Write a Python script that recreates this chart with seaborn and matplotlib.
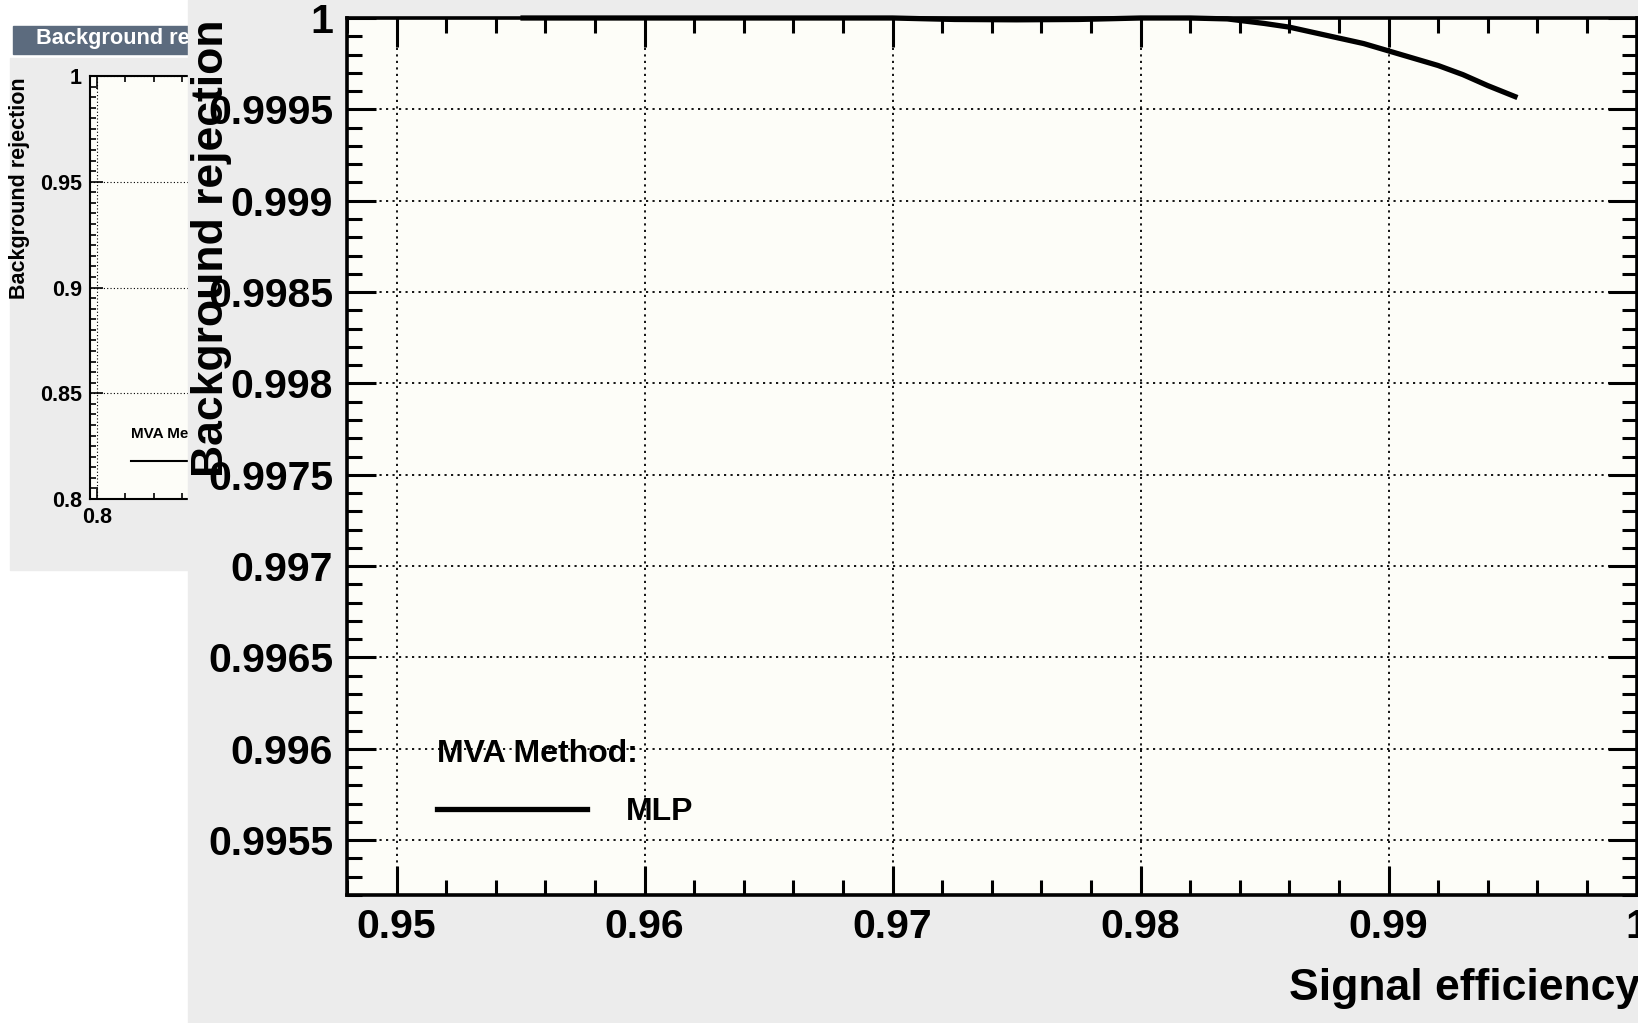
import seaborn as sns
import pandas as pd
import matplotlib.pyplot as plt
from matplotlib.patches import Rectangle
from matplotlib.ticker import MultipleLocator, FuncFormatter

# ROC curve
sig_eff = [0.9551, 0.960, 0.965, 0.970, 0.9725, 0.975, 0.9775, 0.980, 0.982, 0.9835,
           0.985, 0.986, 0.987, 0.988, 0.989, 0.990, 0.991, 0.992, 0.993, 0.994, 0.9951]
bkg_rej = [1.0, 1.0, 1.0, 1.0, 0.999992, 0.99999, 0.999992, 1.0, 1.0, 0.999995,
           0.99997, 0.99995, 0.99992, 0.99989, 0.99986, 0.99982, 0.99978, 0.99974,
           0.99969, 0.99963, 0.99957]
method = "MLP"
legend_title = "MVA Method:"

roc = pd.DataFrame({"eff": sig_eff, "rej": bkg_rej})

plt.rcParams["font.family"] = ["Liberation Sans", "DejaVu Sans"]
plt.rcParams["font.weight"] = "bold"

W, H = 1638, 1023
fig = plt.figure(figsize=(16.38, 10.23), dpi=100, facecolor="white")
plot_bg = "#fdfdf8"
panel_grey = "#ececec"
fmt = FuncFormatter(lambda v, p: f"{v:g}")

# ---- small canvas in the background ----
fig.add_artist(Rectangle((10.4 / W, 1 - 570 / H), 0.25, 512.5 / H,
                         transform=fig.transFigure, color=panel_grey, zorder=-1))
fig.add_artist(Rectangle((12.5 / W, 1 - 54 / H), 0.25, 28 / H,
                         transform=fig.transFigure, color="#5c6b7e", zorder=0.5))
fig.text(36.5 / W, 1 - 38.6 / H, "Background rejection versus Signal efficiency",
         color="white", size=15.7, weight="bold", va="center", zorder=1)

sax = fig.add_axes([90 / W, 1 - 499 / H, 0.35, 423 / H], zorder=0)
sax.set_facecolor(plot_bg)
sns.lineplot(data=roc, x="eff", y="rej", color="black", lw=1.5, label=method, ax=sax)
sax.set_xlim(0.7975, 1.0)
sax.set_ylim(0.8, 1.0)
sax.xaxis.set_major_locator(MultipleLocator(0.05))
sax.xaxis.set_minor_locator(MultipleLocator(0.01))
sax.yaxis.set_major_locator(MultipleLocator(0.05))
sax.yaxis.set_minor_locator(MultipleLocator(0.005))
sax.xaxis.set_major_formatter(fmt)
sax.yaxis.set_major_formatter(fmt)
sax.tick_params(which="both", direction="in", top=True, right=True, width=1.2,
                labelsize=15.5, pad=6)
sax.tick_params(which="major", length=9)
sax.tick_params(which="minor", length=4)
sax.grid(True, which="major", color="black", ls=(0, (1, 2)), lw=0.8)
for s in sax.spines.values():
    s.set_linewidth(1.5)
sax.set_xlabel("")
sax.set_ylabel("")
sax.legend(title=legend_title, loc="upper left", bbox_to_anchor=(0.071, 0.17),
           frameon=False, borderpad=0, borderaxespad=0, handlelength=4.7,
           handletextpad=1.0, labelspacing=0.95, alignment="left",
           prop={"weight": "bold", "size": 11},
           title_fontproperties={"weight": "bold", "size": 11})
fig.text(20 / W, 1 - 188 / H, "Background rejection", rotation=90, size=15.5,
         weight="bold", ha="center", va="center", zorder=1)

# ---- main canvas in front ----
fig.add_artist(Rectangle((188 / W, 0), 1, 1, transform=fig.transFigure,
                         color=panel_grey, zorder=2))

ax = fig.add_axes([347 / W, 1 - 895 / H, 1289.5 / W, 877 / H], zorder=3)
ax.set_facecolor(plot_bg)
sns.lineplot(data=roc, x="eff", y="rej", color="black", lw=3.8, label=method,
             ax=ax, clip_on=False)
ax.set_xlim(0.948, 1.0)
ax.set_ylim(0.9952, 1.0)
ax.xaxis.set_major_locator(MultipleLocator(0.01))
ax.xaxis.set_minor_locator(MultipleLocator(0.002))
ax.yaxis.set_major_locator(MultipleLocator(0.0005))
ax.yaxis.set_minor_locator(MultipleLocator(0.0001))
ax.xaxis.set_major_formatter(fmt)
ax.yaxis.set_major_formatter(fmt)
ax.tick_params(which="both", direction="in", top=True, right=True, width=2.2,
               labelsize=29.5)
ax.tick_params(axis="y", pad=10)
ax.tick_params(axis="x", pad=9)
ax.tick_params(which="major", length=21)
ax.tick_params(which="minor", length=11)
ax.grid(True, which="major", color="black", ls=(0, (1.2, 2.4)), lw=1.3)
for s in ax.spines.values():
    s.set_linewidth(2.6)
ax.set_xlabel("")
ax.set_ylabel("")

ax.legend(title=legend_title, loc="upper left", bbox_to_anchor=(0.070, 0.178),
          frameon=False, borderpad=0, borderaxespad=0, handlelength=4.7,
          handletextpad=1.2, labelspacing=0.89, alignment="left",
          prop={"weight": "bold", "size": 23},
          title_fontproperties={"weight": "bold", "size": 23})

fig.text(212 / W, 1 - 248 / H, "Background rejection", rotation=90, size=32,
         weight="bold", ha="center", va="center", zorder=4)
fig.text(1289 / W, 1 - 1000 / H, "Signal efficiency", size=32, weight="bold",
         ha="left", va="baseline", zorder=4)

plt.savefig("out.png", dpi=100)
